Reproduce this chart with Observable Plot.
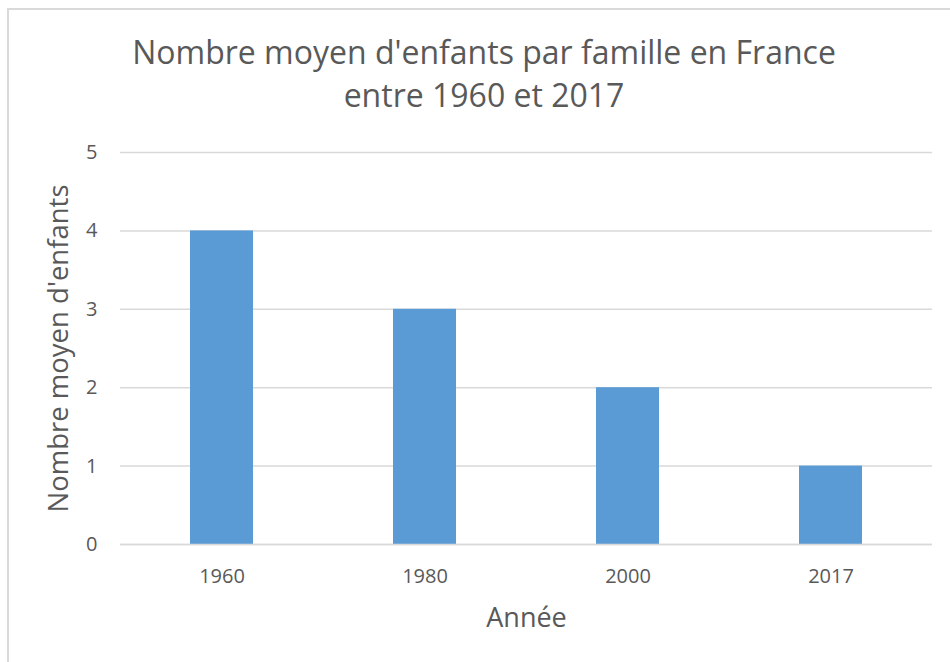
<!DOCTYPE html>
<html>
<head>
<meta charset="utf-8">
<script src="https://cdn.jsdelivr.net/npm/d3@7"></script>
<script src="https://cdn.jsdelivr.net/npm/@observablehq/plot@0.6"></script>
<style>
  html, body { margin: 0; padding: 0; background: #fff; overflow: hidden; width: 950px; height: 662px; }
  #wrap { position: relative; width: 950px; height: 662px; font-family: "Open Sans", sans-serif; }
  #frame { position: absolute; left: 7px; top: 8px; width: 1000px; height: 700px; border: 2px solid #d9d9d9; box-sizing: border-box; }
  #title { position: absolute; left: 0; width: 968px; top: 30px; text-align: center; font-size: 32px; line-height: 43px; color: #595959; }
  #chart { position: absolute; left: 0; top: 0; }
</style>
</head>
<body>
<div id="wrap">
  <div id="frame"></div>
  <div id="chart"></div>
  <div id="title">Nombre moyen d'enfants par famille en France<br>entre 1960 et 2017</div>
</div>
<script>
const years = ["1960", "1980", "2000", "2017"];
const enfants = [4, 3, 2, 1];
const yTicks = [0, 1, 2, 3, 4, 5];

const data = years.map((y, i) => ({annee: y, valeur: enfants[i]}));

const chart = Plot.plot({
  width: 950,
  height: 662,
  marginTop: 152,
  marginBottom: 118,
  marginLeft: 120,
  marginRight: 18,
  style: {background: "transparent", fontFamily: "'Open Sans', sans-serif", color: "#595959"},
  x: {domain: years, paddingInner: 0.69, paddingOuter: 0.345, label: "Année"},
  y: {domain: [0, 5], ticks: yTicks, label: "Nombre moyen d'enfants"},
  marks: [
    Plot.gridY(yTicks, {stroke: "#d9d9d9", strokeOpacity: 1, strokeWidth: 1.5}),
    Plot.barY(data, {x: "annee", y: "valeur", fill: "#5b9bd5"}),
    Plot.ruleY([0], {stroke: "#d9d9d9", strokeWidth: 1.5}),
    Plot.axisY({ticks: yTicks, tickSize: 0, tickPadding: 23, fontSize: 20, fill: "#595959", label: null, tickFormat: d => String(d)}),
    Plot.axisY({ticks: [], tickSize: 0, label: "Nombre moyen d'enfants", labelAnchor: "center", labelArrow: "none", labelOffset: 72, fontSize: 27.5, fill: "#595959"}),
    Plot.axisX({tickSize: 0, tickPadding: 24, fontSize: 20, fill: "#595959", label: null}),
    Plot.axisX({ticks: [], tickSize: 0, label: "Année", labelAnchor: "center", labelArrow: "none", labelOffset: 82, fontSize: 27, fill: "#595959"})
  ]
});
document.getElementById("chart").appendChild(chart);
</script>
</body>
</html>
